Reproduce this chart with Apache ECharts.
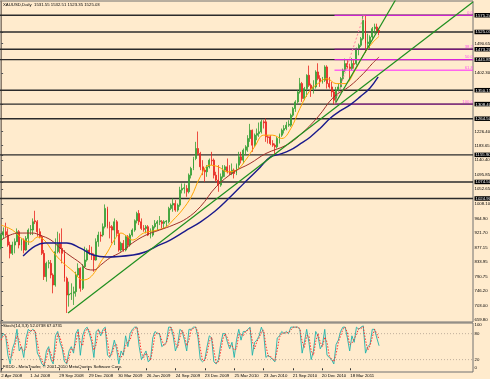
<!DOCTYPE html>
<html><head><meta charset="utf-8">
<script src="https://cdn.jsdelivr.net/npm/echarts@6/dist/echarts.min.js"></script>
<style>html,body{margin:0;padding:0;background:#FFEBCD;}#c{width:490px;height:379px;}</style>
</head><body><div id="c"></div>
<script>
// Weekly candles from 2 Apr 2008: [open, close, low, high]
const ohlc = [
[880,915,872,920],[915,925,905,938],[925,915,910,952],[915,885,880,935],[885,860,845,895],
[860,885,855,895],[885,895,860,905],[895,925,895,935],[925,885,875,930],[885,900,868,905],
[900,870,860,905],[870,905,868,912],[905,930,885,935],[930,932,915,945],[930,955,915,965],
[958,955,948,988],[955,925,910,960],[925,910,905,935],[910,860,855,915],[860,790,780,870],
[790,830,775,835],[830,832,815,840],[830,795,785,840],[795,765,740,800],[765,865,760,905],
[865,890,860,925],[890,875,860,920],[875,860,830,935],[860,785,775,870],[785,735,681,790],
[735,738,700,775],[738,740,720,770],[740,745,705,760],[745,795,730,805],[795,815,790,830],
[815,755,745,818],[755,820,750,828],[820,840,818,880],[840,870,835,875],[870,860,855,885],
[860,855,840,880],[855,840,805,860],[840,895,838,905],[895,915,880,925],[915,912,895,925],
[915,940,910,950],[940,995,935,1007],[995,940,935,1000],[940,938,905,955],[940,930,890,945],
[930,955,885,965],[955,920,910,960],[920,870,865,930],[870,890,865,895],[890,870,865,900],
[870,910,866,915],[910,885,875,915],[885,915,880,920],[915,930,910,935],[930,958,925,962],
[958,980,950,985],[980,955,945,990],[955,935,930,965],[935,932,925,945],[935,940,920,945],
[940,915,912,945],[915,918,905,935],[915,940,910,945],[940,950,935,960],[950,955,930,960],
[955,958,945,972],[955,950,935,960],[950,955,935,960],[955,957,940,960],[955,995,950,1000],
[995,1005,990,1010],[1005,1010,985,1025],[1010,990,985,1020],[990,1005,985,1010],[1005,1050,1000,1060],
[1050,1055,1040,1070],[1055,1057,1040,1070],[1055,1045,1030,1065],[1045,1095,1040,1100],[1095,1115,1085,1120],
[1115,1145,1110,1150],[1145,1175,1140,1195],[1175,1160,1155,1226],[1160,1120,1110,1165],[1120,1110,1095,1140],
[1110,1105,1075,1115],[1105,1120,1090,1125],[1120,1140,1115,1145],[1140,1138,1125,1165],[1140,1095,1085,1145],
[1095,1080,1075,1105],[1080,1065,1045,1125],[1065,1090,1060,1100],[1090,1110,1085,1125],[1110,1120,1090,1125],
[1120,1105,1100,1145],[1105,1100,1095,1125],[1100,1110,1095,1130],[1110,1100,1085,1115],[1100,1125,1095,1130],
[1125,1150,1115,1165],[1150,1140,1130,1165],[1140,1170,1130,1175],[1170,1180,1155,1185],[1180,1205,1165,1215],
[1205,1230,1195,1249],[1230,1185,1165,1232],[1185,1215,1180,1220],[1215,1220,1200,1235],[1220,1225,1210,1253],
[1225,1255,1220,1262],[1255,1252,1235,1260],[1255,1210,1195,1265],[1210,1208,1190,1215],[1210,1190,1185,1215],
[1190,1185,1180,1200],[1185,1180,1157,1190],[1180,1205,1175,1210],[1205,1215,1190,1220],[1215,1230,1210,1235],
[1230,1235,1220,1245],[1235,1245,1230,1255],[1245,1248,1240,1260],[1245,1275,1240,1280],[1275,1295,1270,1300],
[1295,1315,1285,1320],[1315,1345,1310,1350],[1345,1370,1340,1387],[1370,1325,1315,1375],[1325,1355,1320,1360],
[1355,1395,1330,1398],[1395,1365,1360,1424],[1365,1355,1330,1370],[1355,1360,1340,1380],[1360,1405,1355,1410],
[1405,1385,1380,1431],[1385,1375,1360,1395],[1375,1380,1370,1390],[1380,1420,1375,1425],[1420,1370,1355,1425],
[1370,1360,1355,1390],[1360,1345,1330,1375],[1345,1320,1308,1350],[1320,1350,1315,1360],[1350,1360,1345,1370],
[1360,1385,1355,1390],[1385,1410,1380,1415],[1410,1430,1405,1445],[1430,1420,1415,1440],[1420,1415,1380,1430],
[1415,1430,1410,1447],[1430,1428,1415,1440],[1430,1475,1425,1478],[1475,1485,1455,1490],[1485,1505,1480,1510],
[1505,1560,1500,1575],[1560,1490,1462,1575],[1490,1495,1480,1520],[1495,1510,1475,1515],[1510,1535,1505,1540],
[1535,1540,1520,1550],[1540,1530,1522,1550],[1530,1525,1515,1535]
];
// moving averages [week, price]
const fastMA = [[0,945],[5,930],[10,900],[13,894],[16,909],[19,900],[23,864],[27,834],[32,805],[36,780],[39,786],[42,810],[44,834],[47,864],[50,900],[53,921],[56,909],[58,900],[63,921],[69,930],[73,940],[76,960],[80,990],[84,1030],[88,1090],[92,1125],[96,1120],[100,1105],[104,1110],[108,1140],[112,1180],[116,1215],[120,1215],[124,1205],[128,1235],[132,1295],[136,1345],[140,1370],[144,1385],[148,1370],[152,1370],[156,1405],[160,1455],[164,1492],[167,1512]];
const midMA = [[0,900],[4,915],[8,921],[14,921],[17,915],[22,900],[26,876],[30,855],[35,831],[38,812],[41,810],[44,825],[48,846],[53,864],[58,891],[64,915],[70,930],[76,945],[82,965],[88,1000],[95,1060],[103,1105],[110,1130],[117,1160],[126,1185],[132,1215],[140,1270],[147,1330],[154,1362],[160,1400],[164,1430],[167,1450]];
const slowMA = [[9.7,852],[15,882],[19.4,891],[29,891],[35,876],[40.7,855],[46.8,849],[58.3,855],[63.6,864],[68,879],[74.7,900],[81.3,927],[88,954],[94.6,987],[101.2,1029],[107.8,1074],[114.5,1119],[118.9,1149],[123.3,1158],[127.7,1170],[132,1188],[136.5,1209],[141,1236],[145.4,1266],[149.8,1288],[154.2,1306],[158.6,1330],[163,1357],[166.6,1390]];
// trend lines [week, price]
const longTrend = [[29.55,680.8],[208.5,1615]];
const steepTrend = [[147.5,1308.7],[178,1665]];
const fibDiagonal = [[147.4,1308.4],[160.3,1575.24]];
// horizontal levels
const levelPrices = [1575.24,1525.03,1473.20,1441.85,1350.15,1308.40,1264.50,1155.90,1074.50,1024.90];
const fibLevels = [1575.24,1473.31,1441.82,1410.34,1308.40];
const fibNames = ['0.0','38.2','50.0','61.8','100.0'];
const fibStartWeek = 147.3;
// price axis tick labels
const priceTicks = [659.80,703.00,746.20,790.75,833.95,877.15,921.70,964.90,1008.10,1052.65,1095.85,1140.40,1183.65,1226.40,1402.30,1490.65];
// stochastic (weekly)
const stochMain = [70,80,75,30,10,45,60,90,40,50, 25,70,90,85,90,85,35,25,10,5, 40,50,20,10,75,85,60,45,15,10, 40,50,35,80,90,30,75,90,95,80, 60,25,85,90,75,90,95,30,25,40, 65,45,10,40,30,75,50,80,90,95, 95,50,20,30,40,15,20,70,85,80, 80,50,55,60,95,95,75,40,55,90, 85,65,40,90,90,95,95,70,20,15, 20,50,75,70,15,10,20,55,80,80, 60,45,60,25,65,90,65,85,85,90, 95,30,60,65,75,95,80,25,30,25, 20,15,70,75,85,80,85,80,95,95, 95,95,90,35,60,90,60,20,40,85, 75,45,55,90,30,25,20,10,55,65, 85,95,95,70,40,75,60,95,90,95, 98,35,50,55,90,90,70,52];
const stochSignal = [65,75,78,55,25,30,50,75,65,45, 40,45,80,87,87,87,60,30,18,8, 22,45,35,15,42,80,72,52,30,12, 25,45,42,58,85,60,52,82,92,88, 70,42,55,88,82,82,92,62,28,32, 52,55,28,25,35,52,62,65,85,92, 95,72,35,25,35,28,18,45,78,82, 80,65,52,58,78,95,85,58,48,72, 88,75,52,65,90,92,95,82,45,18, 18,35,62,72,42,12,15,38,68,80, 70,52,52,42,45,78,78,75,85,88, 92,62,45,62,70,85,88,52,28,28, 22,18,42,72,80,82,82,82,88,95, 95,95,92,62,48,75,75,40,30,62, 80,60,50,72,60,28,22,15,32,60, 75,90,95,82,55,58,68,78,92,92, 96,65,42,52,72,90,80,67];
const stochLevels = [20,80];
const stochTicks = [0,20,80,100];
// date labels
const dateLabels = ['2 Apr 2008','1 Jul 2008','29 Sep 2008','29 Dec 2008','30 Mar 2009','26 Jun 2009','24 Sep 2009','23 Dec 2009','25 Mar 2010','23 Jun 2010','21 Sep 2010','20 Dec 2010','18 Mar 2011'];
const dateLabelWeeks = [0,12.86,25.71,38.71,51.71,64.29,77.14,90,103.14,116,128.86,141.71,154.29];

const FONT = 'Liberation Sans';
const FS = 4.3;
const NW = 209, xMin = -0.5, xMax = 208.5;
const cats = Array.from({length: NW}, (_, i) => String(i));
const allPriceTicks = priceTicks.concat(levelPrices);
const isLevel = v => levelPrices.some(p => Math.abs(p - v) < 0.001);

const series = [];
levelPrices.forEach(p => series.push({
  type:'line', xAxisIndex:1, yAxisIndex:0, data:[[xMin,p],[xMax,p]], symbol:'none',
  lineStyle:{color:'#2b2b2b', width:1.4}, silent:true, z:1, animation:false
}));
series.push({
  type:'candlestick', xAxisIndex:0, yAxisIndex:0, data: ohlc, barWidth: 1.4, z:2,
  itemStyle:{color:'#33a033', color0:'#e8251e', borderColor:'#33a033', borderColor0:'#e8251e', borderWidth:0.8}
});
fibLevels.forEach((p,i) => series.push({
  type:'line', xAxisIndex:1, yAxisIndex:0, z:3, symbol:'circle', symbolSize:0, showSymbol:true,
  data:[[fibStartWeek,p], {value:[xMax,p], label:{show:true, formatter: fibNames[i], position:'top', align:'right', distance:0.5, color:'#ff55ee', fontSize:FS, fontFamily:FONT}}],
  lineStyle:{color: i===4 ? '#a020a0' : (i===1 ? '#9a109a' : '#ff22ff'), width:1}, silent:true
}));
const maLine = (d, color, w) => ({type:'line', xAxisIndex:1, yAxisIndex:0, data:d, symbol:'none', smooth:0.4, z:4, lineStyle:{color, width:w}, silent:true});
series.push(maLine(fastMA, '#ffa500', 1));
series.push(maLine(midMA, '#a0302a', 1));
series.push(maLine(slowMA, '#1a1a8c', 1.4));
const tl = (d, color, w, type) => ({type:'line', xAxisIndex:1, yAxisIndex:0, data:d, symbol:'none', z:5, clip:true, lineStyle:{color, width:w, type: type||'solid'}, silent:true});
series.push(tl(longTrend, '#1f8f1f', 1.2));
series.push(tl(steepTrend, '#1f8f1f', 1.2));
series.push(tl(fibDiagonal, '#ff7fa0', 1, [2,2]));
stochLevels.forEach(v => series.push({type:'line', xAxisIndex:2, yAxisIndex:1, data:[[xMin,v],[xMax,v]], symbol:'none', lineStyle:{color:'#b0a090', width:0.8, type:[1,2]}, silent:true}));
series.push({type:'line', xAxisIndex:2, yAxisIndex:1, data: stochMain.map((v,i)=>[i,v]), symbol:'none', lineStyle:{color:'#20b2aa', width:0.9}, silent:true});
series.push({type:'line', xAxisIndex:2, yAxisIndex:1, data: stochSignal.map((v,i)=>[i,v]), symbol:'none', lineStyle:{color:'#ff2020', width:0.9, type:[1.5,1.5]}, silent:true});

const txt = {fontSize:FS, fontFamily:FONT, color:'#000'};
const option = {
  backgroundColor:'#FFEBCD',
  animation:false,
  grid:[
    {left:0, top:1, width:473, height:321, show:true, borderColor:'#707070', borderWidth:1, backgroundColor:'transparent', outerBoundsMode:'none'},
    {left:0, top:323, width:473, height:49, show:true, borderColor:'#707070', borderWidth:1, backgroundColor:'transparent', outerBoundsMode:'none'}
  ],
  xAxis:[
    {type:'category', gridIndex:0, data:cats, boundaryGap:true, show:false},
    {type:'value', gridIndex:0, min:xMin, max:xMax, show:false},
    {type:'value', gridIndex:1, min:xMin, max:xMax, position:'bottom',
      axisLine:{show:false}, splitLine:{show:false},
      axisTick:{show:true, customValues: dateLabelWeeks, length:2, lineStyle:{color:'#333'}},
      axisLabel:{show:true, customValues: dateLabelWeeks, align:'left', margin:1.5, ...txt,
        formatter: v => { const i = dateLabelWeeks.findIndex(w => Math.abs(w - v) < 0.01); return i >= 0 ? dateLabels[i] : ''; }}}
  ],
  yAxis:[
    {type:'value', gridIndex:0, position:'right', min:653.8, max:1618.1, splitLine:{show:false},
      axisLine:{show:true, lineStyle:{color:'#8c7c6c'}},
      axisTick:{show:true, customValues: allPriceTicks, length:2, lineStyle:{color:'#555'}},
      axisLabel:{show:true, customValues: allPriceTicks, margin:1.5,
        formatter: v => isLevel(v) ? '{h|' + v.toFixed(2) + '}' : '{n|' + v.toFixed(2) + '}',
        rich:{ n:{fontSize:FS, fontFamily:FONT, color:'#000'}, h:{fontSize:FS, fontFamily:FONT, color:'#fff', backgroundColor:'#000', padding:[0.5,1,0,1]} }}},
    {type:'value', gridIndex:1, position:'right', min:-8.6, max:104.6, splitLine:{show:false},
      axisLine:{show:true, lineStyle:{color:'#8c7c6c'}},
      axisTick:{show:true, customValues: stochTicks, length:2, lineStyle:{color:'#555'}},
      axisLabel:{show:true, customValues: stochTicks, margin:1.5, ...txt, formatter: v => String(Math.round(v))}}
  ],
  graphic:[
    {type:'text', left:3, top:3, z:100, style:{text:'XAUUSD,Daily  1531.55 1532.51 1523.35 1525.03', fontSize:FS, fontFamily:FONT, fill:'#000'}},
    {type:'text', left:3, top:324, z:100, style:{text:'Stoch(14,3,3) 52.0738 67.0731', fontSize:FS, fontFamily:FONT, fill:'#000'}},
    {type:'text', left:3, top:365, z:100, style:{text:'FXDD - MetaTrader, \u00a9 2001-2010 MetaQuotes Software Corp.', fontSize:FS, fontFamily:FONT, fill:'#000'}}
  ],
  series
};
const chart = echarts.init(document.getElementById('c'), null, {renderer:'canvas', width:490, height:379});
chart.setOption(option);
</script></body></html>
